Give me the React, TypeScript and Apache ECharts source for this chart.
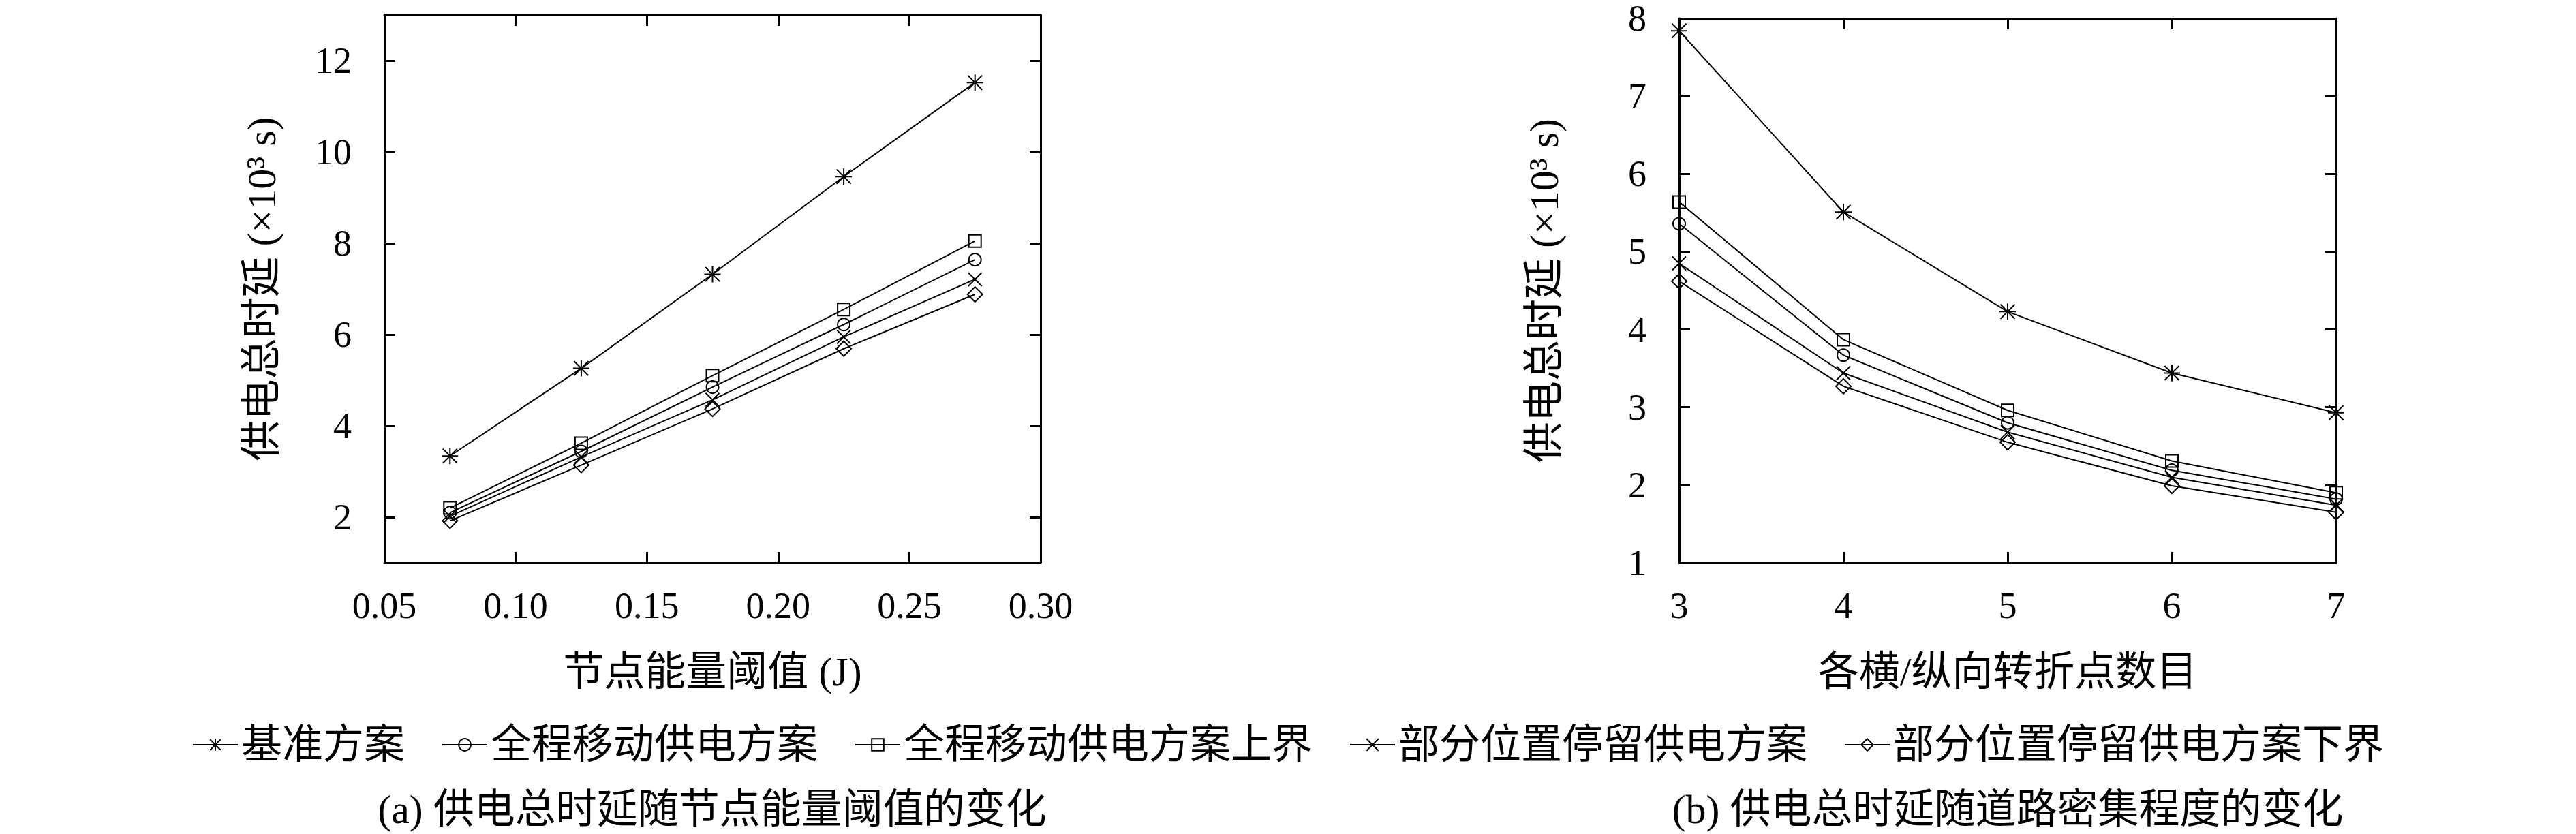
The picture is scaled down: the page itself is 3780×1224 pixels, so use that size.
import React, { useEffect, useRef } from "react";
import * as echarts from "echarts";

// ---------- data ----------
const seriesNames = [
  "基准方案",
  "全程移动供电方案",
  "全程移动供电方案上界",
  "部分位置停留供电方案",
  "部分位置停留供电方案下界",
];

// (a) energy threshold (J)
const xA = [0.075, 0.125, 0.175, 0.225, 0.275];
const aBase = [3.34, 5.26, 7.32, 9.46, 11.52];
const aFull = [2.1, 3.44, 4.85, 6.22, 7.64];
const aFullUpper = [2.2, 3.62, 5.1, 6.55, 8.05];
const aPartial = [2.02, 3.32, 4.57, 5.95, 7.21];
const aPartialLower = [1.92, 3.14, 4.37, 5.69, 6.88];

// (b) number of turning points
const xB = [3, 4, 5, 6, 7];
const bBase = [7.84, 5.51, 4.23, 3.44, 2.93];
const bFull = [5.36, 3.67, 2.8, 2.19, 1.82];
const bFullUpper = [5.64, 3.87, 2.96, 2.31, 1.9];
const bPartial = [4.85, 3.44, 2.68, 2.1, 1.74];
const bPartialLower = [4.62, 3.27, 2.55, 1.99, 1.65];

// tick values
const xTicksA = [0.05, 0.1, 0.15, 0.2, 0.25, 0.3];
const yTicksA = [2, 4, 6, 8, 10, 12];
const xTicksB = [3, 4, 5, 6, 7];
const yTicksB = [1, 2, 3, 4, 5, 6, 7, 8];

const xNameA = "节点能量阈值 (J)";
const xNameB = "各横/纵向转折点数目";
const yName = "供电总时延 (×10³ s)";
const captionA = "(a) 供电总时延随节点能量阈值的变化";
const captionB = "(b) 供电总时延随道路密集程度的变化";

// ---------- styling ----------
const FONT = "'Liberation Serif', 'Noto Sans CJK SC', serif";
const STAR = "path://M5,0L5,10M0,5L10,5M0.6,0.6L9.4,9.4M9.4,0.6L0.6,9.4";
const CROSS = "path://M0,0L10,10M10,0L0,10";
const symbols = [STAR, "circle", "rect", CROSS, "diamond"];
const symbolSizes = [24, 18, 18, 20, 22];
const NAME_SIZE = 60;

function makeXAxis(gridIndex: number, min: number, max: number, ticks: number[], fmt: (v: number) => string, name: string, top: boolean) {
  return {
    type: "value",
    gridIndex,
    position: top ? "top" : "bottom",
    min,
    max,
    axisLine: { show: true, onZero: false, lineStyle: { color: "#000", width: 3 } },
    axisTick: { show: true, inside: true, length: 16, customValues: ticks, lineStyle: { color: "#000", width: 3 } },
    axisLabel: {
      show: !top,
      customValues: ticks,
      formatter: fmt,
      margin: 36,
      fontSize: 54,
      color: "#000",
      fontFamily: FONT,
    },
    splitLine: { show: false },
    name: top ? "" : name,
    nameLocation: "middle",
    nameGap: 130,
    nameTextStyle: { fontSize: NAME_SIZE, color: "#000", fontFamily: FONT },
  };
}

function makeYAxis(gridIndex: number, min: number, max: number, ticks: number[], name: string, right: boolean, gap: number) {
  return {
    type: "value",
    gridIndex,
    position: right ? "right" : "left",
    min,
    max,
    axisLine: { show: true, onZero: false, lineStyle: { color: "#000", width: 3 } },
    axisTick: { show: true, inside: true, length: 16, customValues: ticks, lineStyle: { color: "#000", width: 3 } },
    axisLabel: {
      show: !right,
      customValues: ticks,
      margin: 48,
      fontSize: 54,
      lineHeight: 40,
      color: "#000",
      fontFamily: FONT,
    },
    splitLine: { show: false },
    name: right ? "" : name,
    nameLocation: "middle",
    nameGap: gap,
    nameTextStyle: { fontSize: NAME_SIZE, color: "#000", fontFamily: FONT },
  };
}

function makeSeries(idx: number, xs: number[], ys: number[], axisIndex: number) {
  return {
    type: "line",
    name: seriesNames[idx],
    xAxisIndex: axisIndex,
    yAxisIndex: axisIndex,
    data: xs.map((x, i) => [x, ys[i]]),
    symbol: symbols[idx],
    symbolSize: symbolSizes[idx],
    showAllSymbol: true,
    clip: false,
    lineStyle: { color: "#000", width: 2 },
    itemStyle: { color: "rgba(0,0,0,0)", borderColor: "#000", borderWidth: 2 },
    emphasis: { disabled: true },
  };
}

export default function App() {
  const ref = useRef<HTMLDivElement>(null);
  useEffect(() => {
    if (!ref.current) return;
    const chart = echarts.init(ref.current, undefined, { renderer: "svg" });
    const aData = [aBase, aFull, aFullUpper, aPartial, aPartialLower];
    const bData = [bBase, bFull, bFullUpper, bPartial, bPartialLower];
    const series: any[] = [];
    aData.forEach((ys, i) => series.push(makeSeries(i, xA, ys, 0)));
    bData.forEach((ys, i) => series.push(makeSeries(i, xB, ys, 2)));

    const option: any = {
      animation: false,
      backgroundColor: "#fff",
      textStyle: { fontFamily: FONT, color: "#000" },
      grid: [
        { left: 564, top: 22, width: 963, height: 804 },
        { left: 2464, top: 22, width: 964, height: 804 },
      ],
      xAxis: [
        makeXAxis(0, 0.05, 0.3, xTicksA, (v: number) => v.toFixed(2), xNameA, false),
        makeXAxis(0, 0.05, 0.3, xTicksA, (v: number) => v.toFixed(2), "", true),
        makeXAxis(1, 3, 7, xTicksB, (v: number) => String(v), xNameB, false),
        makeXAxis(1, 3, 7, xTicksB, (v: number) => String(v), "", true),
      ],
      yAxis: [
        makeYAxis(0, 1, 13, yTicksA, yName, false, 150),
        makeYAxis(0, 1, 13, yTicksA, "", true, 0),
        makeYAxis(1, 1, 8, yTicksB, yName, false, 168),
        makeYAxis(1, 1, 8, yTicksB, "", true, 0),
      ],
      legend: {
        show: true,
        left: "center",
        top: 1058,
        itemWidth: 66,
        itemHeight: 22,
        itemGap: 54,
        data: seriesNames,
        textStyle: { fontSize: NAME_SIZE, color: "#000", fontFamily: FONT },
        selectedMode: false,
      },
      series,
      graphic: [
        {
          type: "text",
          x: 1045,
          y: 1188,
          style: { text: captionA, fontSize: NAME_SIZE, fontFamily: FONT, fill: "#000", textAlign: "center", textVerticalAlign: "middle" },
        },
        {
          type: "text",
          x: 2946,
          y: 1188,
          style: { text: captionB, fontSize: NAME_SIZE, fontFamily: FONT, fill: "#000", textAlign: "center", textVerticalAlign: "middle" },
        },
      ],
    };
    chart.setOption(option);
    return () => chart.dispose();
  }, []);
  return (
    <div
      ref={ref}
      style={{ position: "fixed", left: 0, top: 0, width: 3780, height: 1224, background: "#fff" }}
    />
  );
}
